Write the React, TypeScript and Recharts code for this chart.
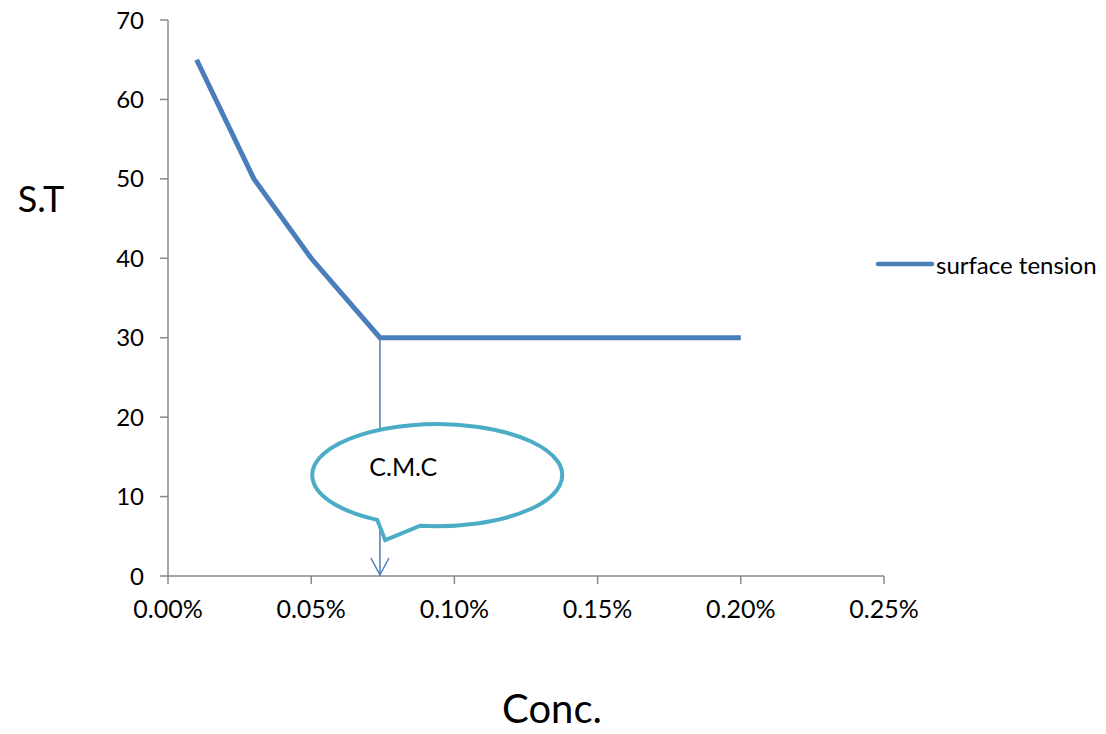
import React from 'react';
import { LineChart, Line, XAxis, YAxis, ReferenceLine, ReferenceDot, Legend, Label } from 'recharts';

const concentrations = [0.01, 0.03, 0.05, 0.074, 0.2];
const surfaceTension = [65, 50, 40, 30, 30];
const xTicks = [0, 0.05, 0.1, 0.15, 0.2, 0.25];
const yTicks = [0, 10, 20, 30, 40, 50, 60, 70];
const cmcX = 0.074;
const cmcY = 30;
const calloutX = 0.094;
const calloutY = 12.7;
const seriesName = 'surface tension';

const data = concentrations.map((c, i) => ({ conc: c, st: surfaceTension[i] }));

const FONT = 'Lato, "Open Sans", sans-serif';
const LINE_COLOR = '#4a7ebb';
const CALLOUT_COLOR = '#4bacc6';
const LEGEND_W = 236;

const Callout = (props: any) => {
  const { cx, cy } = props;
  if (cx == null || cy == null) return null;
  const rx = 125;
  const ry = 51;
  const p1x = -17;
  const p1y = ry * Math.sqrt(1 - (p1x / rx) ** 2);
  const p2x = -60;
  const p2y = ry * Math.sqrt(1 - (p2x / rx) ** 2);
  const d = `M ${cx + p1x} ${cy + p1y} A ${rx} ${ry} 0 1 0 ${cx + p2x} ${cy + p2y} L ${cx - 52} ${cy + 65} Z`;
  return (
    <g>
      <path d={d} fill="#ffffff" stroke={CALLOUT_COLOR} strokeWidth={4} strokeLinejoin="miter" />
      <text x={cx - 34} y={cy - 9} textAnchor="middle" dominantBaseline="central" fontFamily={FONT} fontSize={25} fill="#000">
        C.M.C
      </text>
    </g>
  );
};

const ArrowHead = (props: any) => {
  const { cx, cy } = props;
  if (cx == null || cy == null) return null;
  return (
    <path d={`M ${cx - 9} ${cy - 18} L ${cx} ${cy - 1} L ${cx + 9} ${cy - 18}`} fill="none" stroke={LINE_COLOR} strokeWidth={1.5} />
  );
};

const LegendContent = () => (
  <svg width={LEGEND_W} height={30}>
    <line x1={10} y1={15} x2={64} y2={15} stroke={LINE_COLOR} strokeWidth={4.5} strokeLinecap="round" />
    <text x={68} y={15} dominantBaseline="central" fontFamily={FONT} fontSize={24} fill="#000">
      {seriesName}
    </text>
  </svg>
);

export default function App() {
  return (
    <div style={{ position: 'absolute', left: 0, top: 0, width: 1106, height: 734, background: '#fff' }}>
      <LineChart width={1106} height={734} data={data} margin={{ top: 20, right: 222 - LEGEND_W, bottom: 128, left: 108 }}>
        <XAxis
          dataKey="conc"
          type="number"
          domain={[0, 0.25]}
          ticks={xTicks}
          tickFormatter={(v: number) => v.toFixed(2) + '%'}
          height={30}
          stroke="#888"
          strokeWidth={1.5}
          tickSize={8}
          tickMargin={16}
          tick={{ fill: '#000', fontSize: 25, fontFamily: FONT }}
        >
          <Label
            content={() => (
              <text x={552} y={723} textAnchor="middle" fontFamily={FONT} fontSize={40} fill="#000">
                Conc.
              </text>
            )}
          />
        </XAxis>
        <YAxis
          type="number"
          domain={[0, 70]}
          ticks={yTicks}
          width={60}
          stroke="#888"
          strokeWidth={1.5}
          tickSize={8}
          tickMargin={16}
          tick={{ fill: '#000', fontSize: 24, fontFamily: FONT }}
        >
          <Label
            content={() => (
              <text x={41} y={212} textAnchor="middle" fontFamily={FONT} fontSize={36} fill="#000">
                S.T
              </text>
            )}
          />
        </YAxis>
        <Legend
          layout="vertical"
          verticalAlign="top"
          align="right"
          wrapperStyle={{ position: 'absolute', left: 868, top: 249, width: LEGEND_W }}
          content={<LegendContent />}
        />
        <ReferenceLine
          segment={[{ x: cmcX, y: cmcY }, { x: cmcX, y: 0 }]}
          stroke={LINE_COLOR}
          strokeWidth={1.5}
          ifOverflow="visible"
        />
        <Line
          type="linear"
          dataKey="st"
          name={seriesName}
          stroke={LINE_COLOR}
          strokeWidth={5}
          dot={false}
          activeDot={false}
          isAnimationActive={false}
        />
        <ReferenceDot x={calloutX} y={calloutY} r={0} shape={<Callout />} ifOverflow="visible" />
        <ReferenceDot x={cmcX} y={0} r={0} shape={<ArrowHead />} ifOverflow="visible" />
      </LineChart>
    </div>
  );
}
